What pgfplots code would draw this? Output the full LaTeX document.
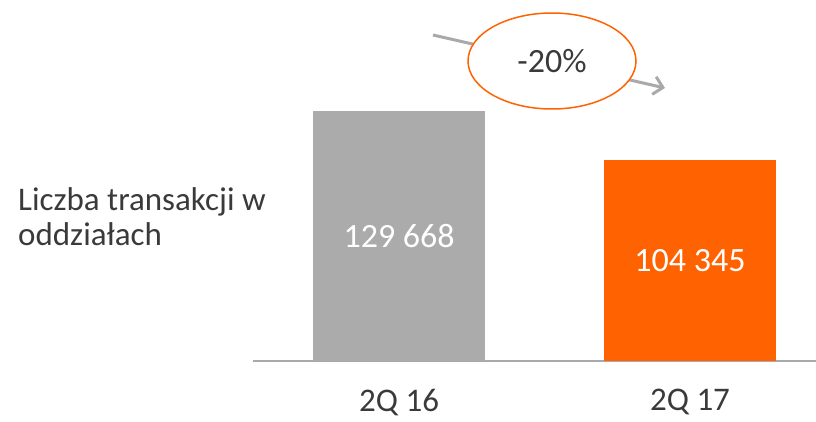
\documentclass[border=0pt]{standalone}
\usepackage{pgfplots}
\pgfplotsset{compat=1.18}
\usepackage{fontspec}
\setmainfont{Carlito}
\usetikzlibrary{arrows.meta}
\definecolor{barGrey}{HTML}{ABABAB}
\definecolor{ingOrange}{HTML}{FF6200}
\definecolor{lineGrey}{HTML}{A9A9A9}
\definecolor{txt}{HTML}{3A3A3A}
\begin{document}
\begin{tikzpicture}[x=1pt,y=1pt]
\useasboundingbox (0,0) rectangle (816,421);
\begin{axis}[
  at={(253pt,60pt)}, anchor=south west,
  scale only axis, width=563pt, height=361pt,
  xmin=-0.502, xmax=1.433, ymin=0, ymax=187240,
  axis x line=bottom, hide y axis,
  x axis line style={-, draw=lineGrey, line width=1.5pt},
  xtick={0,1}, xticklabels={2Q 16, 2Q 17},
  major tick length=0pt,
  xticklabel style={font=\fontsize{33}{40}\selectfont, text=txt, inner sep=0pt, yshift=-28pt},
  ybar, bar width=0.591, bar shift=0pt,
  clip=false,
]
\addplot[fill=barGrey, draw=none] coordinates {(0,129668)};
\addplot[fill=ingOrange, draw=none] coordinates {(1,104345)};
\node[text=white, font=\fontsize{34}{40}\selectfont] at (axis cs:0,64834) {129 668};
\node[text=white, font=\fontsize{34}{40}\selectfont] at (axis cs:1,52172) {104 345};
\end{axis}
\draw[lineGrey, line width=3pt, -{Straight Barb[length=9pt,width=18pt,line width=3pt]}] (433,386) -- (665,333);
\draw[ingOrange, fill=white, line width=1.5pt] (552,360) ellipse [x radius=84, y radius=48];
\node[text=txt, font=\fontsize{34}{40}\selectfont] at (552,360) {-20\%};
\node[inner sep=0pt, anchor=base west, text=txt, font=\fontsize{33}{40}\selectfont] at (18,211) {Liczba transakcji w};
\node[inner sep=0pt, anchor=base west, text=txt, font=\fontsize{33}{40}\selectfont] at (18,176) {oddziałach};
\end{tikzpicture}
\end{document}
